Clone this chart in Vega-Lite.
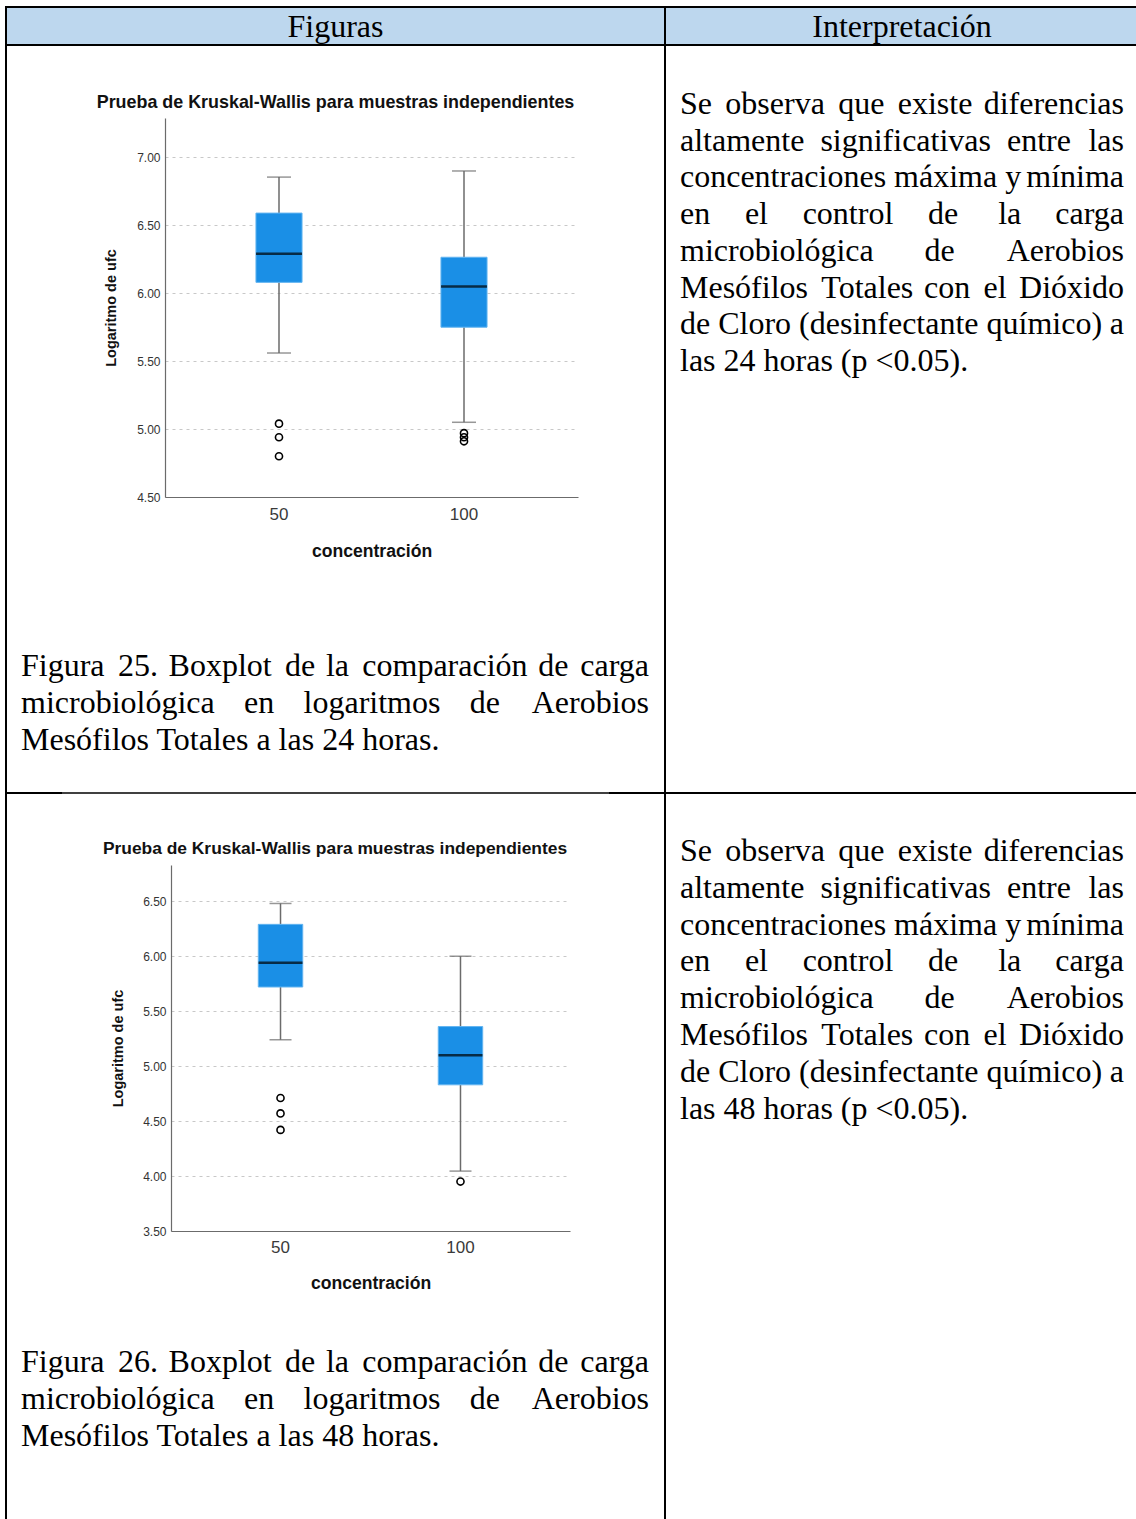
{
  "$schema": "https://vega.github.io/schema/vega-lite/v6.json",
  "width": 1136,
  "height": 1519,
  "autosize": {"type": "none"},
  "padding": 0,
  "background": "white",
  "config": {"view": {"stroke": null}},
  "datasets": {
    "one": [{}],
    "box24": [
      {"conc": "50", "lo": 5.56, "q1": 6.08, "med": 6.29, "q3": 6.59, "hi": 6.855},
      {"conc": "100", "lo": 5.05, "q1": 5.75, "med": 6.05, "q3": 6.265, "hi": 6.9}
    ],
    "out24": [
      {"conc": "50", "v": 5.04}, {"conc": "50", "v": 4.94}, {"conc": "50", "v": 4.8},
      {"conc": "100", "v": 4.97}, {"conc": "100", "v": 4.94}, {"conc": "100", "v": 4.91}
    ],
    "box48": [
      {"conc": "50", "lo": 5.24, "q1": 5.72, "med": 5.94, "q3": 6.29, "hi": 6.48},
      {"conc": "100", "lo": 4.045, "q1": 4.83, "med": 5.1, "q3": 5.36, "hi": 6.0}
    ],
    "out48": [
      {"conc": "50", "v": 4.71}, {"conc": "50", "v": 4.57}, {"conc": "50", "v": 4.42},
      {"conc": "100", "v": 3.95}
    ]
  },
  "resolve": {"scale": {"x": "independent", "y": "independent"}, "axis": {"x": "independent", "y": "independent"}},
  "layer": [
    {
      "data": {"name": "one"},
      "layer": [
        {"mark": {"type": "rect", "color": "#BDD7EE"}, "encoding": {"x": {"value": 6}, "x2": {"value": 1136}, "y": {"value": 7}, "y2": {"value": 45}}},
        {"mark": {"type": "rule", "color": "black", "strokeWidth": 2}, "encoding": {"x": {"value": 5}, "x2": {"value": 1136}, "y": {"value": 7}}},
        {"mark": {"type": "rule", "color": "black", "strokeWidth": 2}, "encoding": {"x": {"value": 5}, "x2": {"value": 1136}, "y": {"value": 45}}},
        {"mark": {"type": "rule", "color": "black", "strokeWidth": 2}, "encoding": {"x": {"value": 6}, "y": {"value": 6}, "y2": {"value": 1519}}},
        {"mark": {"type": "rule", "color": "black", "strokeWidth": 2}, "encoding": {"x": {"value": 665}, "y": {"value": 6}, "y2": {"value": 1519}}},
        {"mark": {"type": "rule", "color": "black", "strokeWidth": 2}, "encoding": {"x": {"value": 5}, "x2": {"value": 62}, "y": {"value": 793}}},
        {"mark": {"type": "rule", "color": "black", "strokeWidth": 1.3}, "encoding": {"x": {"value": 62}, "x2": {"value": 609}, "y": {"value": 793}}},
        {"mark": {"type": "rule", "color": "black", "strokeWidth": 2}, "encoding": {"x": {"value": 609}, "x2": {"value": 1136}, "y": {"value": 793}}},
        {"mark": {"type": "text", "font": "Liberation Serif", "fontSize": 32, "align": "center", "baseline": "alphabetic", "color": "black"}, "encoding": {"x": {"value": 335.5}, "y": {"value": 37}, "text": {"value": "Figuras"}}},
        {"mark": {"type": "text", "font": "Liberation Serif", "fontSize": 32, "align": "center", "baseline": "alphabetic", "color": "black"}, "encoding": {"x": {"value": 902}, "y": {"value": 37}, "text": {"value": "Interpretación"}}},
        {"mark": {"type": "text", "font": "Liberation Sans", "fontSize": 17.9, "fontWeight": "bold", "align": "center", "baseline": "middle", "color": "#111111"}, "encoding": {"x": {"value": 335.5}, "y": {"value": 103}, "text": {"value": "Prueba de Kruskal-Wallis para muestras independientes"}}},
        {"mark": {"type": "text", "font": "Liberation Sans", "fontSize": 17.4, "fontWeight": "bold", "align": "center", "baseline": "middle", "color": "#111111"}, "encoding": {"x": {"value": 335}, "y": {"value": 849}, "text": {"value": "Prueba de Kruskal-Wallis para muestras independientes"}}},
        {"mark": {"type": "text", "font": "Liberation Serif", "fontSize": 32, "align": "left", "baseline": "alphabetic", "lineHeight": 36.7, "color": "black"}, "encoding": {"x": {"value": 680}, "y": {"value": 114}, "text": {"value": [
          "Se \u2006observa \u2006que \u2006existe",
          "altamente\u2002significativas\u2002entre",
          "concentraciones máxima y",
          "en\u2002\u2004\u00a0el\u2002\u2004\u00a0control\u2002\u2004\u00a0de\u2002\u2004\u00a0\u2006la",
          "microbiológica\u2003\u2004\u00a0de",
          "Mesófilos \u2006Totales\u2004con \u2006el",
          "de Cloro (desinfectante químico)",
          "las 24 horas (p <0.05)."
        ]}}},
        {"mark": {"type": "text", "font": "Liberation Serif", "fontSize": 32, "align": "right", "baseline": "alphabetic", "lineHeight": 36.7, "color": "black"}, "encoding": {"x": {"value": 1124}, "y": {"value": 114}, "text": {"value": [
          "diferencias", "las", "mínima", "carga", "Aerobios", "Dióxido", "a", ""
        ]}}},
        {"mark": {"type": "text", "font": "Liberation Serif", "fontSize": 32, "align": "left", "baseline": "alphabetic", "lineHeight": 36.8, "color": "black"}, "encoding": {"x": {"value": 680}, "y": {"value": 861}, "text": {"value": [
          "Se \u2006observa \u2006que \u2006existe",
          "altamente\u2002significativas\u2002entre",
          "concentraciones máxima y",
          "en\u2002\u2004\u00a0el\u2002\u2004\u00a0control\u2002\u2004\u00a0de\u2002\u2004\u00a0\u2006la",
          "microbiológica\u2003\u2004\u00a0de",
          "Mesófilos \u2006Totales\u2004con \u2006el",
          "de Cloro (desinfectante químico)",
          "las 48 horas (p <0.05)."
        ]}}},
        {"mark": {"type": "text", "font": "Liberation Serif", "fontSize": 32, "align": "right", "baseline": "alphabetic", "lineHeight": 36.8, "color": "black"}, "encoding": {"x": {"value": 1124}, "y": {"value": 861}, "text": {"value": [
          "diferencias", "las", "mínima", "carga", "Aerobios", "Dióxido", "a", ""
        ]}}},
        {"mark": {"type": "text", "font": "Liberation Serif", "fontSize": 32, "align": "left", "baseline": "alphabetic", "lineHeight": 36.8, "color": "black"}, "encoding": {"x": {"value": 21}, "y": {"value": 676}, "text": {"value": [
          "Figura \u200625.\u2004Boxplot \u2006de\u2004la \u2006comparación\u2004de",
          "microbiológica\u2002\u00a0\u2006en\u2002\u00a0\u2006logaritmos\u2002\u00a0\u2006de",
          "Mesófilos Totales a las 24 horas."
        ]}}},
        {"mark": {"type": "text", "font": "Liberation Serif", "fontSize": 32, "align": "right", "baseline": "alphabetic", "lineHeight": 36.8, "color": "black"}, "encoding": {"x": {"value": 649}, "y": {"value": 676}, "text": {"value": ["carga", "Aerobios", ""]}}},
        {"mark": {"type": "text", "font": "Liberation Serif", "fontSize": 32, "align": "left", "baseline": "alphabetic", "lineHeight": 36.8, "color": "black"}, "encoding": {"x": {"value": 21}, "y": {"value": 1372}, "text": {"value": [
          "Figura \u200626.\u2004Boxplot \u2006de\u2004la \u2006comparación\u2004de",
          "microbiológica\u2002\u00a0\u2006en\u2002\u00a0\u2006logaritmos\u2002\u00a0\u2006de",
          "Mesófilos Totales a las 48 horas."
        ]}}},
        {"mark": {"type": "text", "font": "Liberation Serif", "fontSize": 32, "align": "right", "baseline": "alphabetic", "lineHeight": 36.8, "color": "black"}, "encoding": {"x": {"value": 649}, "y": {"value": 1372}, "text": {"value": ["carga", "Aerobios", ""]}}}
      ]
    },
    {
      "data": {"name": "box24"},
      "encoding": {
        "x": {
          "field": "conc", "type": "nominal", "sort": ["50", "100"],
          "scale": {"range": [165, 578], "paddingInner": 0.751, "paddingOuter": 0.4917},
          "axis": {"orient": "bottom", "offset": -1022, "title": "concentración", "labelAngle": 0, "labelFont": "Liberation Sans", "labelFontSize": 17, "labelColor": "#3a3a3a", "labelPadding": 9, "ticks": false, "domainColor": "#6b6b6b", "domainWidth": 1.2, "grid": false, "titleFont": "Liberation Sans", "titleFontSize": 17.6, "titleFontWeight": "bold", "titleColor": "#111111", "titlePadding": 20}
        }
      },
      "layer": [
        {"mark": {"type": "rule", "color": "#6b6b6b", "strokeWidth": 1.5}, "encoding": {
          "y": {"field": "lo", "type": "quantitative", "title": "Logaritmo de ufc",
            "scale": {"domain": [4.5, 7.29], "range": [497, 118], "nice": false, "zero": false},
            "axis": {"orient": "left", "offset": -165, "values": [4.5, 5, 5.5, 6, 6.5, 7], "format": ".2f", "grid": true, "gridDash": [3, 4], "gridColor": "#c8c8c8", "gridWidth": 1, "ticks": false, "domainColor": "#6b6b6b", "domainWidth": 1.2, "labelFont": "Liberation Sans", "labelFontSize": 12, "labelColor": "#333333", "labelPadding": 5, "labelFlush": false, "labelOverlap": false, "titleFont": "Liberation Sans", "titleFontSize": 14.5, "titleFontWeight": "bold", "titleColor": "#111111", "titlePadding": 18}},
          "y2": {"field": "q1"}}},
        {"mark": {"type": "rule", "color": "#6b6b6b", "strokeWidth": 1.5}, "encoding": {
          "y": {"field": "q3", "type": "quantitative", "title": "Logaritmo de ufc", "scale": {"domain": [4.5, 7.29], "range": [497, 118], "nice": false, "zero": false}},
          "y2": {"field": "hi"}}},
        {"mark": {"type": "tick", "color": "#6b6b6b", "size": 24, "thickness": 1.5, "orient": "horizontal"}, "encoding": {
          "y": {"field": "lo", "type": "quantitative", "title": "Logaritmo de ufc", "scale": {"domain": [4.5, 7.29], "range": [497, 118], "nice": false, "zero": false}}}},
        {"mark": {"type": "tick", "color": "#6b6b6b", "size": 24, "thickness": 1.5, "orient": "horizontal"}, "encoding": {
          "y": {"field": "hi", "type": "quantitative", "title": "Logaritmo de ufc", "scale": {"domain": [4.5, 7.29], "range": [497, 118], "nice": false, "zero": false}}}},
        {"mark": {"type": "bar", "color": "#1A8FE6", "stroke": "#62B4F0", "strokeWidth": 1}, "encoding": {
          "y": {"field": "q1", "type": "quantitative", "title": "Logaritmo de ufc", "scale": {"domain": [4.5, 7.29], "range": [497, 118], "nice": false, "zero": false}},
          "y2": {"field": "q3"}}},
        {"mark": {"type": "tick", "color": "black", "size": 46, "thickness": 2.5, "orient": "horizontal"}, "encoding": {
          "y": {"field": "med", "type": "quantitative", "title": "Logaritmo de ufc", "scale": {"domain": [4.5, 7.29], "range": [497, 118], "nice": false, "zero": false}}}},
        {"data": {"name": "out24"}, "mark": {"type": "point", "filled": false, "color": "black", "strokeWidth": 1.6, "size": 50, "opacity": 1}, "encoding": {
          "y": {"field": "v", "type": "quantitative", "title": "Logaritmo de ufc", "scale": {"domain": [4.5, 7.29], "range": [497, 118], "nice": false, "zero": false}}}}
      ]
    },
    {
      "data": {"name": "box48"},
      "encoding": {
        "x": {
          "field": "conc", "type": "nominal", "sort": ["50", "100"],
          "scale": {"range": [171, 570], "paddingInner": 0.753, "paddingOuter": 0.485},
          "axis": {"orient": "bottom", "offset": -288, "title": "concentración", "labelAngle": 0, "labelFont": "Liberation Sans", "labelFontSize": 17, "labelColor": "#3a3a3a", "labelPadding": 8, "ticks": false, "domainColor": "#6b6b6b", "domainWidth": 1.2, "grid": false, "titleFont": "Liberation Sans", "titleFontSize": 17.6, "titleFontWeight": "bold", "titleColor": "#111111", "titlePadding": 19}
        }
      },
      "layer": [
        {"mark": {"type": "rule", "color": "#6b6b6b", "strokeWidth": 1.5}, "encoding": {
          "y": {"field": "lo", "type": "quantitative", "title": "Logaritmo de ufc",
            "scale": {"domain": [3.5, 6.83], "range": [1231, 865], "nice": false, "zero": false},
            "axis": {"orient": "left", "offset": -171, "values": [3.5, 4, 4.5, 5, 5.5, 6, 6.5], "format": ".2f", "grid": true, "gridDash": [3, 4], "gridColor": "#c8c8c8", "gridWidth": 1, "ticks": false, "domainColor": "#6b6b6b", "domainWidth": 1.2, "labelFont": "Liberation Sans", "labelFontSize": 12, "labelColor": "#333333", "labelPadding": 5, "labelFlush": false, "labelOverlap": false, "titleFont": "Liberation Sans", "titleFontSize": 14.5, "titleFontWeight": "bold", "titleColor": "#111111", "titlePadding": 17}},
          "y2": {"field": "q1"}}},
        {"mark": {"type": "rule", "color": "#6b6b6b", "strokeWidth": 1.5}, "encoding": {
          "y": {"field": "q3", "type": "quantitative", "title": "Logaritmo de ufc", "scale": {"domain": [3.5, 6.83], "range": [1231, 865], "nice": false, "zero": false}},
          "y2": {"field": "hi"}}},
        {"mark": {"type": "tick", "color": "#6b6b6b", "size": 22, "thickness": 1.5, "orient": "horizontal"}, "encoding": {
          "y": {"field": "lo", "type": "quantitative", "title": "Logaritmo de ufc", "scale": {"domain": [3.5, 6.83], "range": [1231, 865], "nice": false, "zero": false}}}},
        {"mark": {"type": "tick", "color": "#6b6b6b", "size": 22, "thickness": 1.5, "orient": "horizontal"}, "encoding": {
          "y": {"field": "hi", "type": "quantitative", "title": "Logaritmo de ufc", "scale": {"domain": [3.5, 6.83], "range": [1231, 865], "nice": false, "zero": false}}}},
        {"mark": {"type": "bar", "color": "#1A8FE6", "stroke": "#62B4F0", "strokeWidth": 1}, "encoding": {
          "y": {"field": "q1", "type": "quantitative", "title": "Logaritmo de ufc", "scale": {"domain": [3.5, 6.83], "range": [1231, 865], "nice": false, "zero": false}},
          "y2": {"field": "q3"}}},
        {"mark": {"type": "tick", "color": "black", "size": 44, "thickness": 2.5, "orient": "horizontal"}, "encoding": {
          "y": {"field": "med", "type": "quantitative", "title": "Logaritmo de ufc", "scale": {"domain": [3.5, 6.83], "range": [1231, 865], "nice": false, "zero": false}}}},
        {"data": {"name": "out48"}, "mark": {"type": "point", "filled": false, "color": "black", "strokeWidth": 1.6, "size": 50, "opacity": 1}, "encoding": {
          "y": {"field": "v", "type": "quantitative", "title": "Logaritmo de ufc", "scale": {"domain": [3.5, 6.83], "range": [1231, 865], "nice": false, "zero": false}}}}
      ]
    }
  ]
}
